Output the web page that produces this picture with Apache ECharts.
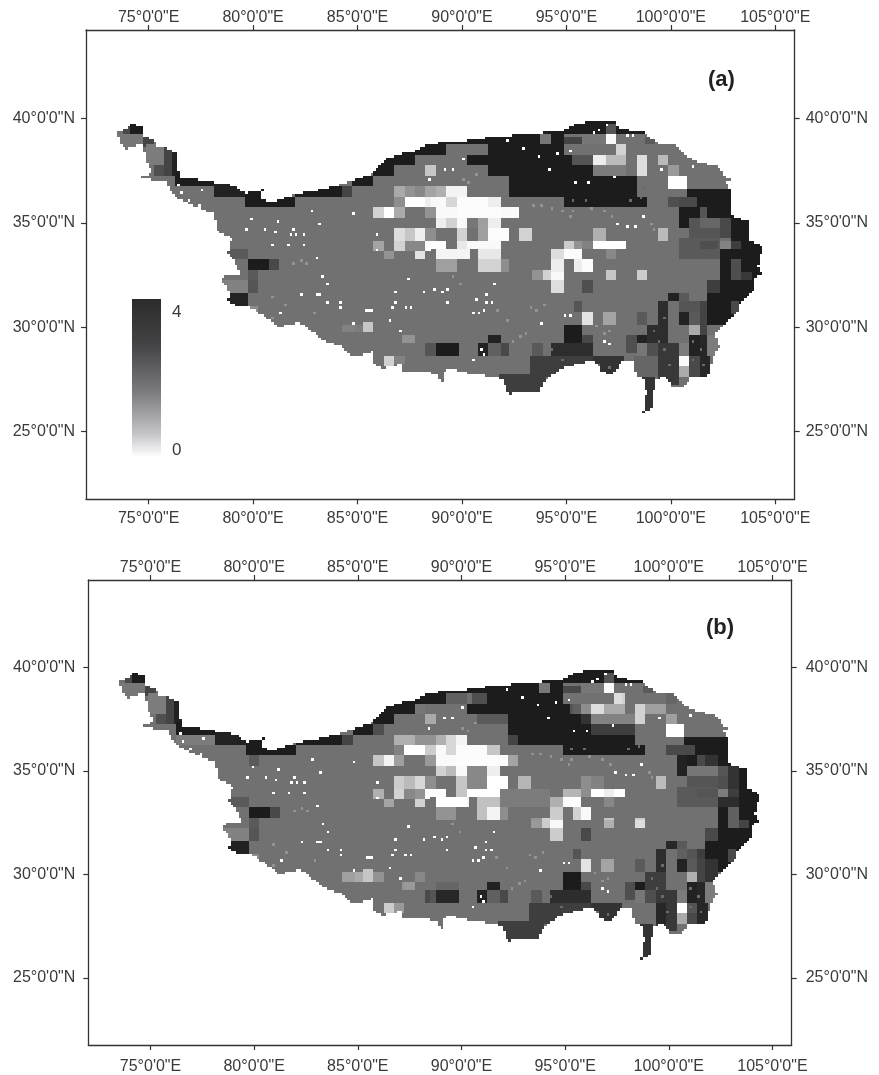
<!DOCTYPE html>
<html><head><meta charset="utf-8">
<style>html,body{margin:0;padding:0;background:#fff}#c{width:879px;height:1075px}</style>
<script src="https://cdn.jsdelivr.net/npm/echarts@6/dist/echarts.min.js"></script>
</head><body><div id="c"></div>
<script>
const lonTicks=[75,80,85,90,95,100,105];
const latTicks=[25,30,35,40];
const outlineLon=[73.53,73.86,74.26,74.73,74.81,75.29,75.37,76.01,76.41,76.41,76.57,78.09,78.25,79.04,79.67,79.75,80.48,80.32,80.87,82.06,83.5,84.78,85.73,86.38,87.01,87.81,88.45,90.05,91.65,93.72,94.84,95.48,96.59,97.31,97.55,98.67,99.46,100.27,100.74,101.38,102.34,102.58,103.21,102.58,102.9,102.82,103.69,103.69,104.41,104.17,104.41,104.01,104.01,103.29,103.13,102.42,102.1,102.34,102.01,101.78,100.9,100.74,100.1,99.7,99.3,99.14,99.06,98.67,98.83,98.75,98.35,98.19,97.71,97.23,96.76,96.27,94.84,93.96,93.72,92.2,92.04,91.73,90.52,89.24,89.08,88.85,88.93,88.85,87.97,87.17,87.09,86.7,86.22,85.82,85.73,84.62,84.22,83.5,82.23,81.27,80.63,79.83,79.27,78.8,78.88,78.48,78.64,79.35,79.27,78.8,78.96,78.32,78.09,77.28,76.25,75.77,74.49,74.73,75.2,74.89,74.73,73.93,73.61];
const outlineLat=[39.34,39.5,39.74,39.58,39.18,38.94,38.7,38.54,38.3,37.58,37.1,37.03,36.87,36.79,36.39,36.47,36.58,36.2,35.99,36.39,36.63,37.03,37.35,38.06,38.3,38.46,38.78,38.91,39.13,39.29,39.42,39.74,39.93,39.82,39.5,39.34,38.78,38.7,38.14,37.9,37.66,37.19,37.1,37.03,36.55,35.35,35.11,34.23,33.83,32.87,32.55,32.39,31.83,31.11,30.64,30,29.68,29.04,28.56,27.68,27.6,27.2,27.12,27.6,27.52,26.8,26.08,25.92,26.8,27.52,27.68,28.32,28.4,27.76,27.84,28.4,28.08,27.44,26.88,26.8,27.36,27.6,27.76,28.08,27.36,27.6,28,27.76,27.92,27.84,28.24,28.16,28,28.16,28.72,28.64,29.12,29.28,30.24,30,30.48,30.96,30.96,31.27,31.67,32.23,32.55,32.55,32.95,33.51,34.23,34.63,35.43,35.75,36.23,37.03,37.1,37.27,37.34,37.9,38.78,38.54,38.78];
const baseValue=2.5;
// [west lon, east lon, south lat, north lat, value 0..4]; later entries win
const patchesA=[
[73.4,74.8,38.5,39.3,2.4],[74.1,74.73,39.26,39.8,4],[73.8,74.17,39.26,39.6,3.2],[74.73,75.3,38.6,39.2,3.3],[74.9,75.7,37.75,38.7,2.3],[75.7,76.1,37.27,38.65,3.3],[76.1,76.5,37.27,38.6,3.9],[75.2,75.78,37.27,37.75,3.1],
[76.26,78.1,36.72,37.4,4],[78.1,79.67,36.2,37,3.9],[79.67,80.48,35.75,36.7,4],[80.48,82.06,35.72,36.25,4],[82.06,84.2,36.2,36.7,4],[84.2,84.78,36.23,36.8,3.3],[84.78,85.73,36.7,37.3,4],[85.73,86.79,37.19,38.2,4],[86.79,87.81,37.75,38.5,4],[87.81,89.27,38.2,38.9,4],[89.27,91.3,38.8,39.2,4],
[91.26,94.85,37.27,39.6,4],[90.31,91.26,37.75,38.2,4],[94.85,96.29,37.27,38.2,4],[92.3,98.33,36.26,37.27,4],[94.85,98.84,35.75,36.26,4],[94.85,95.81,38.78,39.18,3.3],[93.72,94.3,38.78,39.29,2.4],[94.85,98.8,39.2,40,4],[96.85,97.33,39.2,39.7,3],[95.81,96.93,38.7,39.26,2.4],[96.85,97.33,38.7,39.26,0.1],[97.33,98.67,38.7,39.26,2.5],[98.75,99.3,38.78,39.18,2.9],[97.33,97.85,38.2,38.7,0.8],[95.3,96.29,37.75,38.2,3],[96.29,96.85,37.75,38.2,0.3],[96.85,97.89,37.75,38.2,1.2],[96.29,97.89,37.27,37.75,2.3],[98.33,98.84,37.27,38.2,0.6],[99.32,99.88,37.75,38.2,1.2],[99.88,100.36,37.27,37.75,1.8],[99.88,100.74,36.63,37.19,0],
[100.74,103.2,35.25,36.63,4],[99.88,100.74,35.75,36.2,3.1],[100.36,101.2,35.75,36.2,3.2],[100.36,100.84,34.8,35.75,4],[101.32,101.8,35.24,35.72,3],[100.84,102.83,34.23,35.24,3],[101.32,102.35,34.76,35.24,2.7],[102.35,102.83,34.23,35.24,3.2],[100.36,102.35,33.2,34.23,2.9],[101.32,102.3,33.7,34.18,3.1],[102.35,102.83,33.7,34.18,2.2],[102.83,104.5,33.7,35.35,4],[102.83,103.39,33.7,34.18,3.4],[102.35,104.5,32.23,33.7,4],[102.83,103.39,32.23,33.2,3.1],[103.39,103.87,32.23,32.68,3.5],[101.8,104.2,30.16,32.23,4],[101.8,102.35,31.67,32.23,3.4],[102.83,103.3,30.64,31.2,3.2],[101.32,101.8,29.68,31.2,3.3],
[99.88,100.36,31.2,31.67,3.9],[100.36,100.84,31.2,31.67,2.9],[99.32,99.88,30.16,31.2,3.7],[100.36,101.32,30.72,31.2,3],[100.36,100.84,30.16,30.72,3.9],[100.84,101.32,30.16,30.72,2.9],[98.33,98.84,30.16,30.72,2.9],[98.84,99.88,29.2,30.16,3.7],[98.33,98.84,29.2,29.68,3.9],[97.85,98.33,28.72,29.68,3.1],[98.33,98.84,28.64,29.2,2.4],[98.84,99.32,28.64,29.2,3.1],[99.32,100.36,27.2,29.2,3.5],[98.2,99.32,27.68,28.64,2.7],[98.5,99.2,25.8,27.68,3.6],[100.36,100.84,28.64,29.2,2.3],[100.36,100.84,28.08,28.64,0.1],[100.36,100.84,27.6,28.08,1.5],[100.84,101.32,28.64,29.68,3.9],[100.84,101.32,27.6,28.64,3.2],[101.32,101.85,27.6,29.68,3.8],[101.8,102.4,28.64,29.68,2.3],[100.84,101.32,29.68,30.16,1.5],
[94.85,95.81,29.2,30.16,4],[94.3,96.29,28.64,29.2,3.7],[95.81,96.29,29.2,29.68,3.2],[93.3,96.29,28.08,28.64,3.4],[93.3,94.85,27.6,28.08,3.4],[91.7,94,26.7,27.7,3.4],[96.29,97.75,27.7,28.64,3.6],[91.31,91.82,29.2,29.68,3.9],[90.78,91.26,28.64,29.2,3.9],[91.26,91.82,28.64,29.2,2.8],[91.82,92.3,28.64,29.2,3.2],[93.34,93.82,28.64,29.2,2.9],[95.81,96.29,30.16,30.72,0.5],[96.8,97.33,30.16,30.72,1.6],[95.33,95.81,30.72,31.2,3],
[78.81,79.77,33.2,33.75,2.9],[79.77,80.73,32.71,33.2,4],[80.73,81.26,32.71,33.2,3.2],[79.77,80.25,32.23,32.71,2.9],[79.77,80.25,31.67,32.23,3],[78.5,79.77,31.67,32.23,2.2],[78.81,79.77,30.9,31.67,3.9],[79.83,80.25,30.6,31,2],[84.24,84.88,29.7,30.16,2.2],[84.88,85.28,29.7,30.16,2.3],[85.28,85.76,29.7,30.2,1],[87.17,87.75,29.2,29.68,1.9],[86.24,86.79,28.08,28.64,0.8],[86.79,87.27,28.24,28.64,2.2],[88.76,89.83,28.64,29.2,4],[88.3,88.76,28.64,29.2,3],
[88.3,88.79,37.19,37.75,1],[86.79,87.27,36.26,36.74,1.5],[87.27,87.75,36.26,36.74,1.9],[87.75,88.23,36.26,36.74,2.1],[88.3,88.76,36.26,36.74,1.6],[86.79,87.27,35.72,36.26,2],[87.27,88.23,35.72,36.26,0],[88.23,88.79,35.72,36.26,0.3],[85.76,86.24,35.19,35.72,0.8],[86.24,86.79,35.19,35.72,0],[86.79,87.27,35.19,35.72,1.5],[88.23,88.76,35.24,35.72,1.9],[86.79,87.27,34.18,34.76,0.6],[87.27,87.75,34.18,34.76,1],[87.75,88.23,34.18,34.76,0.3],[88.23,88.47,34.18,34.76,2],[85.76,86.24,33.67,34.18,1.6],[86.79,87.27,33.67,34.18,0.8],[87.27,88.23,33.67,34.18,2.1],[88.23,88.47,33.67,34.18,0],[86.24,86.79,33.2,33.67,1.9],[87.75,88.3,33.2,33.67,0.5],
[88.76,89.27,36.26,36.74,1.4],[89.27,90.31,36.26,36.74,0.2],[88.47,89.27,35.72,36.26,0.1],[89.27,89.75,35.72,36.26,0.7],[89.75,91.2,35.72,36.26,0.05],[91.2,91.82,35.72,36.26,0.3],[88.76,89.75,35.24,35.72,0.1],[89.75,91.82,35.24,35.72,0.05],[91.82,92.78,35.24,35.72,0.1],[88.76,89.27,34.76,35.24,0.3],[89.27,89.75,34.76,35.24,0.8],[89.75,90.31,34.76,35.24,0.1],[90.31,90.78,34.76,35.24,2.4],[90.78,91.31,34.76,35.24,1.7],[91.31,91.82,34.76,35.24,0.3],[88.47,88.76,34.18,34.76,2],[89.75,90.31,34.18,34.76,0.8],[90.78,91.31,34.18,34.76,1.7],[91.31,92.3,34.18,34.76,0.05],[92.78,93.34,34.18,34.76,0.8],[88.47,89.2,33.7,34.18,0.05],[89.75,90.31,33.7,34.18,0.4],[90.31,91.82,33.7,34.18,0.1],[88.76,90.38,33.2,33.7,0.2],[90.78,91.82,33.2,33.7,0.4],[88.76,89.75,32.68,33.2,1.7],[90.78,91.82,32.68,33.2,0.8],[91.82,92.3,32.68,33.2,2],
[94.82,95.33,33.7,34.18,0.9],[95.33,95.81,33.7,34.18,1.9],[95.81,96.29,33.7,34.18,2.2],[94.3,94.82,33.2,33.7,0.6],[94.82,95.81,33.2,33.7,0.05],[94.3,94.82,32.68,33.2,0.3],[95.33,95.81,32.68,33.2,0.3],[95.81,96.29,32.68,33.2,0.05],[93.82,94.3,32.23,32.71,0.8],[94.3,94.82,32.23,32.68,0.1],[93.34,93.82,32.23,32.71,1.9],[94.3,94.82,31.67,32.23,0.6],[96.29,96.85,34.18,34.71,1.4],[96.29,97.89,33.7,34.18,0],[96.85,97.33,32.23,32.71,1],[98.33,98.84,32.23,32.71,0.9],[95.81,96.29,31.67,32.23,3.1],[96.85,97.33,33.2,33.7,2.1],[99.32,99.88,34.18,34.71,1.2]];
// changes in panel (b) relative to panel (a)
const changesB=[
[76.3,78.1,36.2,36.72,2.3],[79.77,80.25,35.2,35.7,2.9],[85.76,86.24,36.7,37.3,3.1],[87.75,88.23,37.75,38.2,2.4],[88.23,88.79,37.27,37.75,1.5],[86.79,87.75,36.26,36.74,1.4],[87.75,88.79,36.26,36.74,1.9],[88.23,88.79,35.72,36.26,0.9],[86.79,87.27,35.72,36.26,2.2],[85.76,86.24,35.19,35.72,1],[86.24,86.79,35.19,35.72,0.2],[86.79,87.27,35.19,35.72,1.7],[88.23,88.76,35.24,35.72,1.8],[86.79,87.27,34.18,34.76,0.9],[87.27,87.75,34.18,34.76,1.2],[87.75,88.23,34.18,34.76,0.7],[85.76,86.24,33.67,34.18,1.4],[87.75,88.23,33.67,34.18,1.9],[86.24,86.79,33.2,33.67,1.6],[87.75,88.3,33.2,33.67,0.8],
[84.24,84.88,29.68,30.16,1.7],[84.88,85.28,29.68,30.16,1.5],[85.28,85.76,29.68,30.16,1],[85.76,86.24,29.68,30.16,1.9],[87.75,88.23,29.68,30.16,2.1],[87.27,87.75,29.2,29.68,1.8],[86.24,86.79,28.16,28.64,0.9],[86.79,87.27,28.16,28.64,1.8],[88.23,88.79,28.64,29.2,3.2],
[91.82,94.3,33.2,34.18,2.3],[89.27,89.75,36.26,36.74,0.7],[91.31,91.82,35.72,36.26,1],[91.82,92.3,35.24,35.72,0],[92.3,92.78,35.24,35.72,1.6],[88.76,89.27,34.76,35.24,0.8],[89.27,89.75,34.76,35.24,1.2],[90.31,91.31,34.18,35.24,2.1],[91.31,92.3,34.18,34.76,0],[92.78,93.34,34.18,34.76,1.3],[89.75,90.31,34.18,34.76,1],[89.75,90.31,33.7,34.18,1],[90.31,91.82,33.7,34.18,0],[88.76,90.31,33.2,33.7,0],[90.78,91.82,33.2,33.7,1.1],[88.76,89.75,32.68,33.2,1.9],[90.78,91.31,32.68,33.2,1.1],[91.31,91.82,32.68,33.2,0.2],
[94.3,94.82,33.2,33.7,1.4],[94.82,95.81,33.2,33.7,0.05],[94.3,94.82,32.68,33.2,0.9],[95.33,95.81,32.68,33.2,0.8],[95.81,96.29,32.68,33.2,0.1],[93.34,93.82,32.23,32.68,1.8],[93.82,94.3,32.23,32.68,0.9],[94.3,94.82,32.23,32.68,0.1],[94.3,94.82,31.67,32.23,0.9],[96.29,96.85,34.18,34.76,2.2],[95.81,96.29,34.18,34.76,2],[94.82,95.81,33.7,34.18,1.3],[95.81,96.29,33.7,34.18,2],[96.29,97.89,33.7,34.18,0],[96.85,97.33,33.7,34.18,0.3],[96.85,97.33,32.23,32.68,1.4],[98.33,98.84,32.23,32.68,0.6],[95.81,96.29,31.67,32.23,3.2],
[99.88,100.84,35.75,36.23,3.2],[100.36,100.84,34.8,35.75,3.9],[101.32,101.8,35.24,35.72,3.2],[101.8,102.35,35.24,35.72,3.6],[100.84,102.35,34.76,35.24,2.4],[102.35,102.83,34.76,35.24,3],[102.83,103.39,34.18,35.24,3.6],[102.35,102.83,34.18,34.76,3.1],[101.32,102.35,33.7,34.18,3],[102.35,102.83,33.7,34.18,2.3],[102.83,103.39,33.7,34.18,3.4],[102.35,103.39,33.2,33.7,3.7],[102.83,103.39,32.23,33.2,2.8],[103.39,103.87,32.23,32.68,3.3],[101.8,102.35,31.67,32.23,3.2],[99.88,100.36,31.2,31.67,3.8],[100.36,100.84,30.72,31.2,2.8],[101.32,101.8,30.72,31.2,3.4],[101.8,102.35,29.68,30.72,3.6],[100.36,100.84,30.16,30.72,3.9],[100.84,101.32,29.68,30.16,1.4],[98.84,99.88,29.2,30.16,3.4],[98.33,98.84,29.2,29.68,4],[100.36,100.84,28.08,28.64,0],[100.36,100.84,27.6,28.08,1.5],[100.84,101.32,28.08,28.64,3],[98.2,99.32,27.68,28.64,2.5],[99.32,99.88,27.68,28.64,3.8],
[88.76,89.83,28.64,29.2,3.8],[88.47,88.76,28.64,29.2,3],[88.76,89.83,29.2,29.68,2.7],
[89.27,90.31,38.2,38.8,2.8],[90.5,91.3,38.2,38.8,3.1],[90.7,92.2,37.27,37.75,2.9],[92.3,92.8,36.26,36.74,3.3],[96.29,98.33,36.74,37.27,3.4],[95.81,96.29,37.27,37.75,3.6],[96.29,98.33,37.27,37.75,2.2],[98.33,98.84,37.27,38.2,0.8],[98.84,99.88,37.75,38.2,1.7],[99.88,100.36,38.2,38.7,2.7],[99.88,100.36,37.3,37.75,1.7],[100.36,100.84,37.75,38.2,2.5],[95.33,95.81,37.75,38.2,2.8],[95.81,96.29,37.75,38.2,2],[96.29,96.85,37.75,38.2,0.6],[96.85,97.89,37.75,38.2,1.5],[97.33,97.8,38.2,38.7,0.6],[94.85,95.81,38.78,39.18,3.2]];
// isolated white pixels (no-data specks)
const speckLon=[79.96,79.68,80.52,81.13,81.08,81.97,81.77,82.05,82.4,80.92,81.72,82.45,83.17,82.77,84.78,85.9,85.9,83.09,83.25,83.6,82.29,83.09,83.22,83.57,84.14,84.22,85.4,85.55,85.7,86.79,86.63,87.35,87.5,88.15,88.7,86.87,87.43,86.5,87.03,85.66,81.32,76.5,76.98,77.54,76.42,77.46,84.86,88.48,92.18,92.98,93.71,94.54,95.19,94.19,95.48,96.12,97.25,96.28,96.6,96.93,97.89,98.21,88.72,89.04,89.28,89.36,90.65,91.13,91.21,91.46,91.62,90.57,90.81,91.05,93.79,94.91,95.24,97.41,97.97,98.37,98.7,96.76,97.09,90.57,90.97,91.05,101.11,99.58,90.01,89.6,89.2];
const speckLat=[35.16,34.74,34.63,35,34.52,34.74,34.44,34.44,34.39,33.91,33.99,33.91,34.98,35.56,35.43,34.39,33.67,33.35,32.47,32.11,31.56,31.51,31.51,31.24,31.2,30.96,30.84,30.84,30.84,31.2,30.88,30.92,30.92,31.67,31.75,31.63,32.27,30.32,29.76,28.8,30.72,36.39,36.07,36.55,36.79,35.75,30.16,37.06,38.94,38.59,38.14,38.34,38.38,37.58,36.9,36.9,37.14,39.34,39.45,39.66,39.18,39.23,31.75,31.67,31.75,31.2,31.27,31.51,31.24,31.24,32,30.72,30.72,30.8,30.2,30.56,30.6,34.9,34.87,34.79,35.3,29.36,29.2,28.48,28.96,28.64,37.74,37.5,38.06,37.54,37.5];
// lighter grey flecks
const fleckLon=[93.4,93.85,94.35,94.85,95.33,95.17,96.15,96.75,97.23,99,99.15,90.05,90.37,90.7,91.65,92.13,93.25,93.57,93.9,92.77,93.1,92.45,96.45,97.1,96.78,89.9,89.6,82.25,81.93,82.55,80.97,81.6,82.9,80.97];
const fleckLat=[35.83,35.75,35.67,35.51,35.59,35.35,35.67,35.59,35.27,34.95,34.71,37.1,36.95,37.35,30.8,30.32,30.96,30.8,31.11,29.52,29.68,29.36,30,29.84,29.68,32.07,32.39,33.19,33.03,33.11,31.43,31.11,30.64,30.48];
// mid-grey flecks inside the dark areas
const darkFleckLon=[101.08,101.4,101.08,101.56,99.64,99.96,99.48,99.16,98.68,99.64,95.49,94.85,94.37,96.61,97.09,98.52,98.05,95.97,95.33,98.68];
const darkFleckLat=[29.36,28.88,28.4,28.24,28.88,28.24,29.36,29.84,29.68,30.48,28.24,28.48,28.88,28.24,28.08,36.23,36,36.07,36,36.63];

const CELL=0.125;
function inside(lon,lat){let c=false;const n=outlineLon.length;
  for(let i=0,j=n-1;i<n;j=i++){const yi=outlineLat[i],yj=outlineLat[j],xi=outlineLon[i],xj=outlineLon[j];
    if((yi>lat)!==(yj>lat)&&lon<(xj-xi)*(lat-yi)/(yj-yi)+xi)c=!c;}
  return c;}
function buildCells(patches){
  const rows=[];
  const key=(lo,la)=>Math.floor(lo/CELL)+':'+Math.floor(la/CELL);
  const special=new Map();
  darkFleckLon.forEach((lo,i)=>special.set(key(lo,darkFleckLat[i]),2.6));
  fleckLon.forEach((lo,i)=>special.set(key(lo,fleckLat[i]),1.9));
  speckLon.forEach((lo,i)=>special.set(key(lo,speckLat[i]),0));
  for(let r=Math.floor(25.5/CELL);r<Math.ceil(40.25/CELL);r++){
    const s=r*CELL,n=s+CELL,cy=s+CELL/2;let run=null;
    for(let c=Math.floor(73/CELL);c<Math.ceil(105/CELL);c++){
      const w=c*CELL,cx=w+CELL/2;let v=null;
      if(inside(cx,cy)){
        v=baseValue;
        for(let k=patches.length-1;k>=0;k--){const p=patches[k];if(cx>=p[0]&&cx<p[1]&&cy>=p[2]&&cy<p[3]){v=p[4];break;}}
        const sp=special.get(c+':'+r);
        if(sp!==undefined&&(sp===0||v>1.5))v=sp;
      }
      if(run&&run[4]===v){run[1]=w+CELL;}
      else{if(run&&run[4]!==null)rows.push(run);run=[w,w+CELL,s,n,v];}
    }
    if(run&&run[4]!==null)rows.push(run);
  }
  return rows;
}
function gray(v){const g=Math.round(255-56.75*Math.min(4,v));return 'rgb('+g+','+g+','+(g+1)+')';}
function renderCell(params,api){
  const a=api.coord([api.value(0),api.value(3)]),b=api.coord([api.value(1),api.value(2)]);
  const x=Math.round(a[0]),y=Math.round(a[1]);
  return {type:'rect',shape:{x,y,width:Math.round(b[0])-x,height:Math.round(b[1])-y},style:{fill:gray(api.value(4))},silent:true};
}
const XR=[72,105.93],YR=[21.76,44.23];
const TXT='#3a3a3a',LINE='#333';
function xAx(g,pos,margin){return {type:'value',gridIndex:g,position:pos,min:XR[0],max:XR[1],splitLine:{show:false},
  axisLine:{show:true,onZero:false,lineStyle:{color:LINE,width:1.3}},
  axisTick:{show:true,length:5,customValues:lonTicks,lineStyle:{color:LINE,width:1.2}},
  axisLabel:{show:true,customValues:lonTicks,margin,color:TXT,fontSize:16,fontFamily:'Liberation Sans',formatter:v=>v+"°0'0\"E"}};}
function yAx(g,pos,margin){return {type:'value',gridIndex:g,position:pos,min:YR[0],max:YR[1],splitLine:{show:false},
  axisLine:{show:true,onZero:false,lineStyle:{color:LINE,width:1.3}},
  axisTick:{show:true,length:5,customValues:latTicks,lineStyle:{color:LINE,width:1.2}},
  axisLabel:{show:true,customValues:latTicks,margin,color:TXT,fontSize:16,fontFamily:'Liberation Sans',formatter:v=>v+"°0'0\"N"}};}
const chart=echarts.init(document.getElementById('c'),null,{renderer:'canvas'});
const series=(xi,yi,data)=>({type:'custom',xAxisIndex:xi,yAxisIndex:yi,data,renderItem:renderCell,encode:{x:[0,1],y:[2,3]},animation:false,progressive:0,silent:true,clip:true});
chart.setOption({
  animation:false,backgroundColor:'#fff',tooltip:{show:false},
  grid:[{left:86,top:30,width:708.7,height:469.3},{left:88.3,top:580,width:703.4,height:465.7}],
  xAxis:[xAx(0,'bottom',11),xAx(0,'top',4),xAx(1,'bottom',14),xAx(1,'top',4)],
  yAxis:[yAx(0,'left',11),yAx(0,'right',11),yAx(1,'left',13),yAx(1,'right',14)],
  series:[series(0,0,buildCells(patchesA)),series(2,2,buildCells(patchesA.concat(changesB)))],
  graphic:[
    {type:'rect',left:132,top:299,shape:{width:29,height:158},silent:true,style:{fill:{type:'linear',x:0,y:0,x2:0,y2:1,colorStops:[{offset:0,color:'#2b2b2b'},{offset:0.3,color:'#454547'},{offset:0.6,color:'#7e7e82'},{offset:0.85,color:'#c4c4c8'},{offset:1,color:'#ffffff'}]}}},
    {type:'text',left:172,top:304,silent:true,style:{text:'4',fill:TXT,font:'17px "Liberation Sans"'}},
    {type:'text',left:172,top:442,silent:true,style:{text:'0',fill:TXT,font:'17px "Liberation Sans"'}},
    {type:'text',left:708,top:69,silent:true,style:{text:'(a)',fill:'#222',font:'bold 22px "Liberation Sans"'}},
    {type:'text',left:706,top:617,silent:true,style:{text:'(b)',fill:'#222',font:'bold 22px "Liberation Sans"'}}
  ]
});
</script></body></html>
